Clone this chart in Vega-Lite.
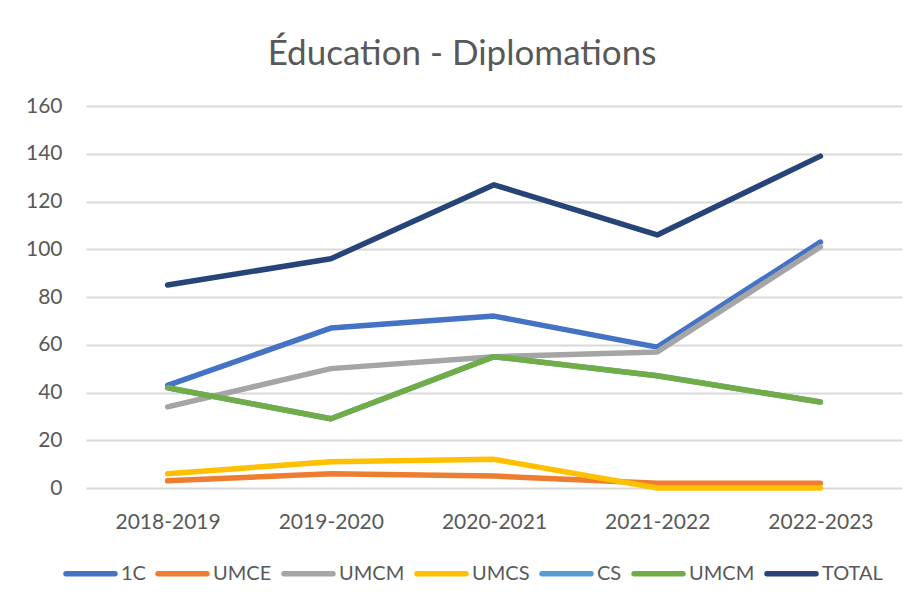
{
  "$schema": "https://vega.github.io/schema/vega-lite/v6.json",
  "width": 816,
  "height": 382,
  "autosize": {"type": "none"},
  "padding": {"left": 86, "top": 106, "right": 17, "bottom": 120},
  "background": "white",
  "title": {
    "text": "Éducation - Diplomations",
    "font": "Lato",
    "fontSize": 35,
    "fontWeight": "normal",
    "color": "#595959",
    "anchor": "middle",
    "dx": -32,
    "dy": 35,
    "offset": 30,
    "baseline": "alphabetic"
  },
  "data": {
    "values": [
      {"year": "2018-2019", "series": "1C", "value": 43},
      {"year": "2019-2020", "series": "1C", "value": 67},
      {"year": "2020-2021", "series": "1C", "value": 72},
      {"year": "2021-2022", "series": "1C", "value": 59},
      {"year": "2022-2023", "series": "1C", "value": 103},
      {"year": "2018-2019", "series": "UMCE", "value": 3},
      {"year": "2019-2020", "series": "UMCE", "value": 6},
      {"year": "2020-2021", "series": "UMCE", "value": 5},
      {"year": "2021-2022", "series": "UMCE", "value": 2},
      {"year": "2022-2023", "series": "UMCE", "value": 2},
      {"year": "2018-2019", "series": "UMCM", "value": 34},
      {"year": "2019-2020", "series": "UMCM", "value": 50},
      {"year": "2020-2021", "series": "UMCM", "value": 55},
      {"year": "2021-2022", "series": "UMCM", "value": 57},
      {"year": "2022-2023", "series": "UMCM", "value": 101},
      {"year": "2018-2019", "series": "UMCS", "value": 6},
      {"year": "2019-2020", "series": "UMCS", "value": 11},
      {"year": "2020-2021", "series": "UMCS", "value": 12},
      {"year": "2021-2022", "series": "UMCS", "value": 0},
      {"year": "2022-2023", "series": "UMCS", "value": 0},
      {"year": "2018-2019", "series": "CS", "value": 42},
      {"year": "2019-2020", "series": "CS", "value": 29},
      {"year": "2020-2021", "series": "CS", "value": 55},
      {"year": "2021-2022", "series": "CS", "value": 47},
      {"year": "2022-2023", "series": "CS", "value": 36},
      {"year": "2018-2019", "series": "UMCM2", "value": 42},
      {"year": "2019-2020", "series": "UMCM2", "value": 29},
      {"year": "2020-2021", "series": "UMCM2", "value": 55},
      {"year": "2021-2022", "series": "UMCM2", "value": 47},
      {"year": "2022-2023", "series": "UMCM2", "value": 36},
      {"year": "2018-2019", "series": "TOTAL", "value": 85},
      {"year": "2019-2020", "series": "TOTAL", "value": 96},
      {"year": "2020-2021", "series": "TOTAL", "value": 127},
      {"year": "2021-2022", "series": "TOTAL", "value": 106},
      {"year": "2022-2023", "series": "TOTAL", "value": 139}
    ]
  },
  "mark": {"type": "line", "strokeWidth": 5.5, "strokeCap": "round", "strokeJoin": "round"},
  "encoding": {
    "x": {
      "field": "year",
      "type": "ordinal",
      "sort": null,
      "scale": {"type": "point", "padding": 0.5},
      "axis": {
        "title": null,
        "labelAngle": 0,
        "domain": false,
        "ticks": false,
        "tickSize": 0,
        "grid": false,
        "labelFont": "Lato",
        "labelFontSize": 21,
        "labelColor": "#595959",
        "labelPadding": 23
      }
    },
    "y": {
      "field": "value",
      "type": "quantitative",
      "scale": {"domain": [0, 160], "nice": false, "zero": true},
      "axis": {
        "title": null,
        "values": [0, 20, 40, 60, 80, 100, 120, 140, 160],
        "domain": false,
        "ticks": false,
        "tickSize": 0,
        "grid": true,
        "gridColor": "#D9D9D9",
        "gridWidth": 2,
        "labelFont": "Lato",
        "labelFontSize": 21,
        "labelColor": "#595959",
        "labelPadding": 24
      }
    },
    "color": {
      "field": "series",
      "type": "nominal",
      "sort": ["1C", "UMCE", "UMCM", "UMCS", "CS", "UMCM2", "TOTAL"],
      "scale": {
        "domain": ["1C", "UMCE", "UMCM", "UMCS", "CS", "UMCM2", "TOTAL"],
        "range": ["#4472C4", "#ED7D31", "#A5A5A5", "#FFC000", "#5B9BD5", "#70AD47", "#264478"]
      },
      "legend": {
        "title": null,
        "orient": "none",
        "legendX": -23,
        "legendY": 440,
        "direction": "horizontal",
        "symbolType": "stroke",
        "symbolSize": 2400,
        "symbolStrokeWidth": 5.5,
        "labelFont": "Lato",
        "labelFontSize": 20,
        "labelColor": "#595959",
        "labelOffset": 3,
        "columnPadding": 1,
        "labelExpr": "datum.label == 'UMCM2' ? 'UMCM' : datum.label",
        "encode": {"symbols": {"update": {"strokeCap": {"value": "round"}}}}
      }
    }
  },
  "config": {"view": {"stroke": null}}
}
